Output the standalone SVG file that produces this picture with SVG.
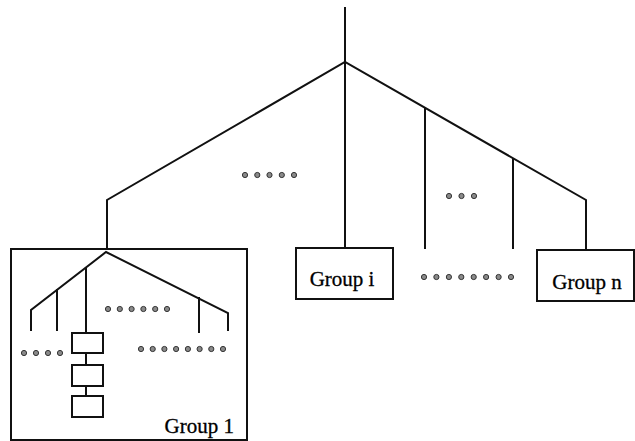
<svg xmlns="http://www.w3.org/2000/svg" width="635" height="441" viewBox="0 0 635 441">
<style>
.ln{stroke:#111;stroke-width:2;fill:none;stroke-linecap:square;stroke-linejoin:miter}
.box{stroke:#111;stroke-width:2;fill:#fff}
.dot{fill:#8a8a8a;stroke:#333;stroke-width:1}
.lbl{font-family:"Liberation Serif","Times New Roman",serif;font-size:21px;fill:#000;stroke:#000;stroke-width:0.3}
</style>
<defs>
<circle id="d" r="2.6" class="dot"/>
</defs>
<rect width="635" height="441" fill="#fff"/>
<g id="group1">
<rect class="box" x="11" y="249" width="236" height="191"/>
<text class="lbl" x="234" y="433" text-anchor="end">Group 1</text>
</g>
<g id="connectors">
<path class="ln" d="M345 8V62"/>
<path class="ln" d="M107 248V200L345 62L586 200V249"/>
<path class="ln" d="M345 62V248"/>
<path class="ln" d="M425 108V248"/>
<path class="ln" d="M513 159V248"/>
<path class="ln" d="M31 330V310L106 252L228 313V330"/>
<path class="ln" d="M57 290V330"/>
<path class="ln" d="M86 268V333"/>
<path class="ln" d="M199 298V332"/>
<path class="ln" d="M86 353V365"/>
<path class="ln" d="M86 386V396"/>
</g>
<g id="node-a"><rect class="box" x="72" y="333" width="31" height="20"/></g>
<g id="node-b"><rect class="box" x="72" y="365" width="31" height="21"/></g>
<g id="node-c"><rect class="box" x="72" y="396" width="31" height="21"/></g>
<g id="groupi">
<rect class="box" x="296" y="248" width="97" height="51"/>
<text class="lbl" x="342" y="286" text-anchor="middle">Group i</text>
</g>
<g id="groupn">
<rect class="box" x="537" y="250" width="97" height="51"/>
<text class="lbl" x="587" y="289" text-anchor="middle">Group n</text>
</g>
<g id="dots">
<use href="#d" x="245" y="175"/><use href="#d" x="257.3" y="175"/><use href="#d" x="269.5" y="175"/><use href="#d" x="281.8" y="175"/><use href="#d" x="294" y="175"/>
<use href="#d" x="449" y="196"/><use href="#d" x="461.5" y="196"/><use href="#d" x="474" y="196"/>
<use href="#d" x="424" y="277"/><use href="#d" x="436.4" y="277"/><use href="#d" x="448.9" y="277"/><use href="#d" x="461.3" y="277"/><use href="#d" x="473.7" y="277"/><use href="#d" x="486.1" y="277"/><use href="#d" x="498.6" y="277"/><use href="#d" x="511" y="277"/>
<use href="#d" x="108" y="309"/><use href="#d" x="119.8" y="309"/><use href="#d" x="131.6" y="309"/><use href="#d" x="143.4" y="309"/><use href="#d" x="155.2" y="309"/><use href="#d" x="167" y="309"/>
<use href="#d" x="24" y="353"/><use href="#d" x="36" y="353"/><use href="#d" x="48" y="353"/><use href="#d" x="60" y="353"/>
<use href="#d" x="141" y="349"/><use href="#d" x="152.7" y="349"/><use href="#d" x="164.4" y="349"/><use href="#d" x="176.1" y="349"/><use href="#d" x="187.9" y="349"/><use href="#d" x="199.6" y="349"/><use href="#d" x="211.3" y="349"/><use href="#d" x="223" y="349"/>
</g>
</svg>
